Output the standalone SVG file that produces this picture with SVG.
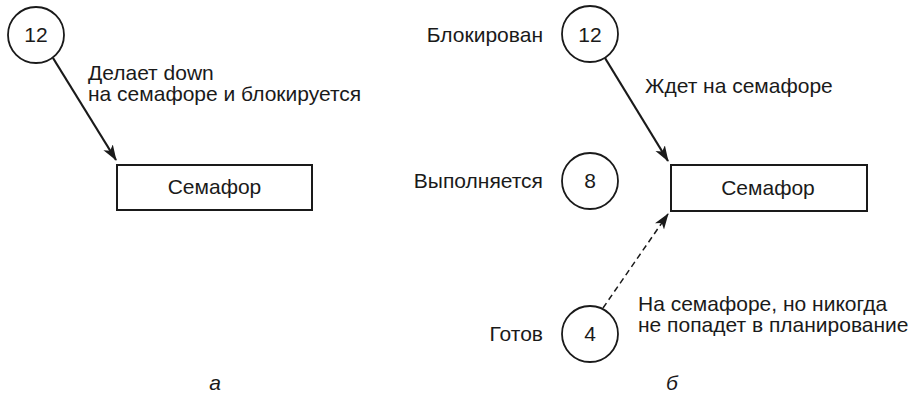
<svg xmlns="http://www.w3.org/2000/svg" width="914" height="395" viewBox="0 0 914 395">
<style>
text{font-family:"Liberation Sans",Arial,sans-serif;font-size:21px;fill:#1a1a1a}
.c{fill:#fff;stroke:#1a1a1a;stroke-width:1.8}
.r{fill:#fff;stroke:#1a1a1a;stroke-width:2}
.mid{text-anchor:middle}
.end{text-anchor:end}
.it{font-style:italic}
.a{stroke:#1a1a1a;stroke-width:2.2;fill:none}
.d{stroke:#1a1a1a;stroke-width:1.5;fill:none;stroke-dasharray:6 4}
</style>
<defs>
<marker id="ah" markerUnits="userSpaceOnUse" markerWidth="16" markerHeight="12" refX="15" refY="5.5" orient="auto" viewBox="0 0 16 11">
<path d="M0,0 L16,5.5 L0,11 L4,5.5 z" fill="#1a1a1a"/>
</marker>
</defs>
<rect width="914" height="395" fill="#fff"/>
<g id="connectors">
<line class="a" x1="53" y1="58" x2="116" y2="160" marker-end="url(#ah)"/>
<line class="a" x1="605" y1="58" x2="668" y2="161" marker-end="url(#ah)"/>
<line class="d" x1="603" y1="308" x2="668" y2="214" marker-end="url(#ah)"/>
</g>
<g id="a-p12">
<circle class="c" cx="36" cy="35" r="28"/>
<text class="mid" x="36" y="42">12</text>
</g>
<g id="a-sem">
<rect class="r" x="117" y="165" width="195" height="45"/>
<text class="mid" x="214.5" y="194">Семафор</text>
</g>
<g id="a-label">
<text x="88" y="80">Делает down</text>
<text x="88" y="101">на семафоре и блокируется</text>
</g>
<text class="mid it" x="215" y="390">а</text>
<g id="b-p12">
<circle class="c" cx="590" cy="34" r="28"/>
<text class="mid" x="590" y="42">12</text>
<text class="end" x="543" y="42">Блокирован</text>
</g>
<g id="b-p8">
<circle class="c" cx="590" cy="181" r="28"/>
<text class="mid" x="590" y="188">8</text>
<text class="end" x="543" y="188">Выполняется</text>
</g>
<g id="b-p4">
<circle class="c" cx="590" cy="334" r="28"/>
<text class="mid" x="590" y="341">4</text>
<text class="end" x="543" y="341">Готов</text>
</g>
<g id="b-sem">
<rect class="r" x="671" y="165" width="196" height="46"/>
<text class="mid" x="768" y="195">Семафор</text>
</g>
<g id="b-labels">
<text x="645" y="93">Ждет на семафоре</text>
<text x="638" y="311">На семафоре, но никогда</text>
<text x="638" y="332">не попадет в планирование</text>
</g>
<text class="mid it" x="672" y="390">б</text>
</svg>
